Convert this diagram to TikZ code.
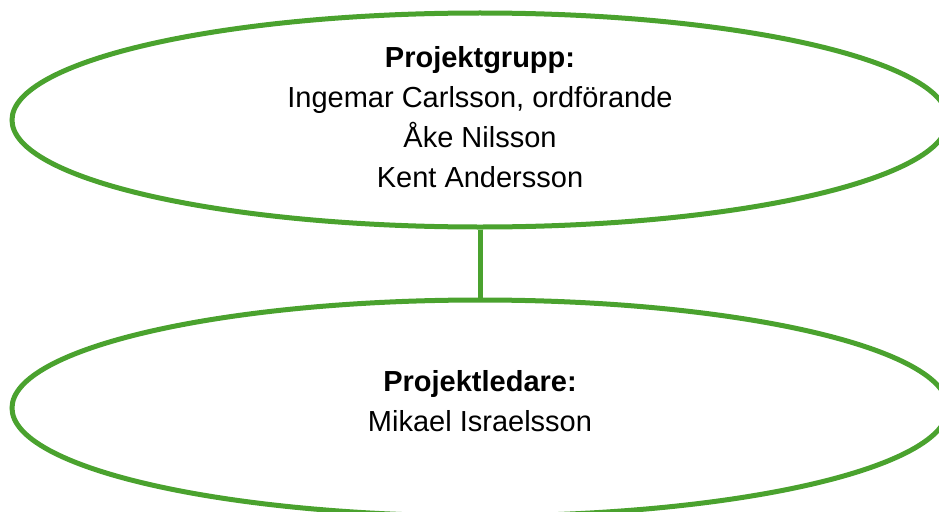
\documentclass[tikz,border=0pt]{standalone}
\usepackage{fontspec}
\setmainfont{Liberation Sans}
\usetikzlibrary{shapes.geometric}
\definecolor{grn}{RGB}{74,162,46}
\begin{document}
\begin{tikzpicture}[x=1pt,y=-1pt,
  oval/.style={draw=grn,line width=5pt,ellipse,inner sep=0pt,minimum width=936pt},
  lbl/.style={align=center,font=\fontsize{29}{40}\selectfont,inner sep=0pt},
  link/.style={draw=grn,line width=5pt}]
\useasboundingbox (0,0) rectangle (939,511);
\node[oval,minimum height=214pt] (e1) at (480,120) {};
\node[oval,minimum height=216pt] (e2) at (480,408) {};
\draw[link] (e1.south) -- (e2.north);
\node[lbl] (t1) at (480,117) {\textbf{Projektgrupp:}\\Ingemar Carlsson, ordförande\\Åke Nilsson\\Kent Andersson};
\node[lbl] (t2) at (480,401) {\textbf{Projektledare:}\\Mikael Israelsson};
\end{tikzpicture}
\end{document}
